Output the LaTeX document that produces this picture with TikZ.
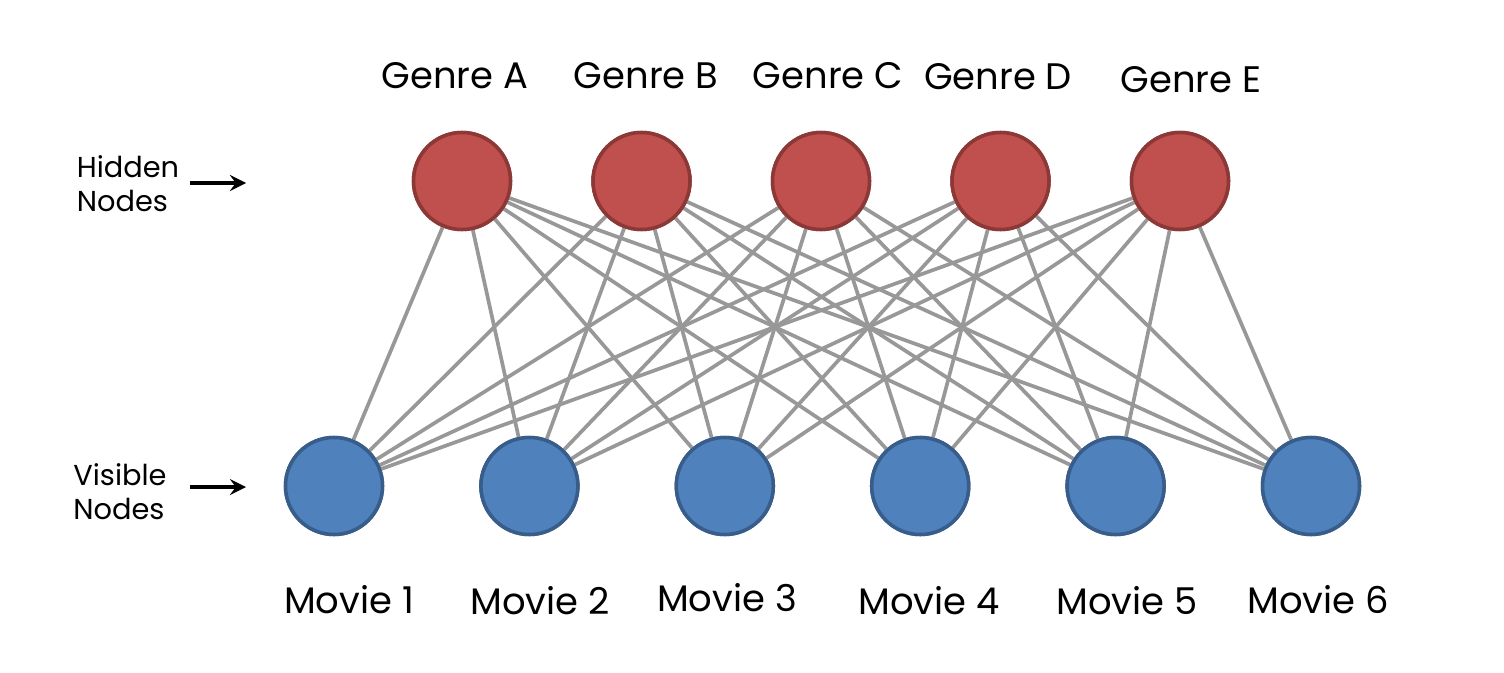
\documentclass[tikz,border=0pt]{standalone}
\usepackage{fontspec}
\setmainfont{Poppins}
\usetikzlibrary{arrows, positioning}
\definecolor{hidfill}{RGB}{192,80,77}
\definecolor{hiddraw}{RGB}{140,56,54}
\definecolor{visfill}{RGB}{79,129,189}
\definecolor{visdraw}{RGB}{56,93,138}
\definecolor{wire}{RGB}{152,152,152}
\begin{document}
\begin{tikzpicture}[node distance=1.795cm,on grid]
    \tikzstyle{hidden}=[shape=circle,fill=hidfill,draw=hiddraw,line width=1pt,minimum size=0.97cm,inner sep=0pt]
    \tikzstyle{visible}=[shape=circle,fill=visfill,draw=visdraw,line width=1pt,minimum size=0.97cm,inner sep=0pt]
    \tikzstyle{caption}=[font=\fontsize{10.5}{12}\selectfont]
    \tikzstyle{side}=[font=\fontsize{8.2}{9.6}\selectfont,align=left]

    \useasboundingbox (0,0) rectangle (15.04,6.72);

    \node[hidden] (H1) at (4.62,4.91) {};
    \node[hidden, right=of H1] (H2) {};
    \node[hidden, right=of H2] (H3) {};
    \node[hidden, right=of H3] (H4) {};
    \node[hidden, right=of H4] (H5) {};

    \node[visible] (V1) at (3.34,1.86) {};
    \node[visible, right=1.954cm of V1] (V2) {};
    \node[visible, right=1.954cm of V2] (V3) {};
    \node[visible, right=1.954cm of V3] (V4) {};
    \node[visible, right=1.954cm of V4] (V5) {};
    \node[visible, right=1.954cm of V5] (V6) {};

    % connections, then the circles again on top
    \foreach \h in {1,...,5}
      \foreach \v in {1,...,6}
        \draw[wire, line width=1.05pt] (H\h) -- (V\v);
    \foreach \h in {1,...,5}
      \node[hidden] at (H\h) {};
    \foreach \v in {1,...,6}
      \node[visible] at (V\v) {};

    \node[caption] (GA) at (4.55,5.96) {Genre A};
    \node[caption] (GB) at (6.46,5.96) {Genre B};
    \node[caption] (GC) at (8.28,5.96) {Genre C};
    \node[caption] (GD) at (9.98,5.95) {Genre D};
    \node[caption] (GE) at (11.91,5.92) {Genre E};

    \node[caption] (M1) at (3.49,0.72) {Movie 1};
    \node[caption] (M2) at (5.40,0.71) {Movie 2};
    \node[caption] (M3) at (7.27,0.74) {Movie 3};
    \node[caption] (M4) at (9.29,0.71) {Movie 4};
    \node[caption] (M5) at (11.27,0.71) {Movie 5};
    \node[caption] (M6) at (13.18,0.72) {Movie 6};

    \node[side] (hid) at (1.28,4.88) {Hidden\\Nodes};
    \node[side] (vis) at (1.20,1.80) {Visible\\Nodes};
    \coordinate (hidA) at (1.90,4.89);
    \coordinate (hidB) at (2.46,4.89);
    \coordinate (visA) at (1.90,1.85);
    \coordinate (visB) at (2.46,1.85);

    \draw[-stealth,line width=1pt] (hidA) -- (hidB);
    \draw[-stealth,line width=1pt] (visA) -- (visB);

\end{tikzpicture}
\end{document}
